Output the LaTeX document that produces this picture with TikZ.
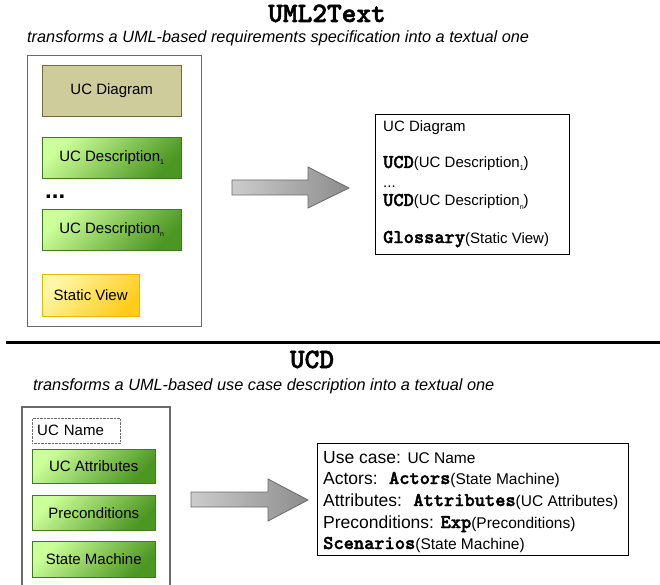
\documentclass[tikz,border=0pt]{standalone}
\usepackage{fontspec}
\setmainfont{Liberation Sans}
\newfontfamily\codefont{lmmonolt10-bold.otf}[FakeBold=2]

\definecolor{khakifill}{HTML}{CFCC9C}
\definecolor{khakiline}{HTML}{6E6C3C}
\definecolor{greenlight}{HTML}{CCFF99}
\definecolor{greendark}{HTML}{4C9622}
\definecolor{greenline}{HTML}{3F7A1E}
\definecolor{yellowlight}{HTML}{FFF7A8}
\definecolor{yellowdark}{HTML}{FFCC1A}
\definecolor{yellowline}{HTML}{E8B800}
\definecolor{arrowlight}{HTML}{CCCCCC}
\definecolor{arrowdark}{HTML}{8C8C8C}
\definecolor{arrowline}{HTML}{6A6A6A}
\definecolor{frameline}{HTML}{6A6A6A}

\newcommand{\idx}[1]{\raisebox{-3pt}{\fontsize{7}{7}\selectfont #1}}
\newcommand{\fn}[1]{{\codefont\fontsize{19.5}{20}\selectfont #1}}
\newcommand{\val}[1]{{\fontsize{15.5}{17}\selectfont #1}}

\tikzset{
  box/.style={shape=rectangle, anchor=north west, inner sep=0pt, font=\fontsize{15}{18}\selectfont},
  khakibox/.style={box, draw=khakiline, fill=khakifill},
  greenbox/.style={box, draw=greenline, top color=greenlight, bottom color=greendark, shading angle=45},
  yellowbox/.style={box, draw=yellowline, top color=yellowlight, bottom color=yellowdark, shading angle=45},
  frame/.style={draw=frameline, line width=1.2pt},
  outbox/.style={draw=black, line width=1pt, anchor=north west, inner sep=0pt},
  bigarrow/.style={draw=arrowline, left color=arrowlight, right color=arrowdark, line width=0.8pt},
  headline/.style={anchor=base, inner sep=0pt, font=\codefont\fontsize{28}{30}\selectfont},
  subline/.style={anchor=base west, inner sep=0pt, font=\itshape\fontsize{16.3}{18}\selectfont},
  txt/.style={anchor=base west, inner sep=0pt, font=\fontsize{15}{18}\selectfont},
  bigtxt/.style={anchor=base west, inner sep=0pt, font=\fontsize{17.5}{20}\selectfont}
}

\begin{document}
\begin{tikzpicture}[x=1pt,y=-1pt]
\useasboundingbox (0,0) rectangle (660,585);

\node(uml) at (327,22)[headline] {UML2Text};
\node(umlsub) at (27,43)[subline] {transforms a UML-based requirements specification into a textual one};

\node(reqs) at (27,55)[box, frame, minimum width=174pt, minimum height=271pt] {};
\node(diagram) at (42,65)[khakibox, minimum width=139pt, minimum height=51pt] {UC Diagram};
\node(descone) at (42,137)[greenbox, minimum width=139pt, minimum height=41pt] {UC Description\idx{1}};
\node(dots) at (45,199)[anchor=base west, inner sep=0pt, font=\bfseries\fontsize{24}{24}\selectfont] {...};
\node(descn) at (42,209)[greenbox, minimum width=139pt, minimum height=41pt] {UC Description\idx{n}};
\node(static) at (42,274)[yellowbox, minimum width=97pt, minimum height=42pt] {Static View};

\shade[bigarrow] (232,180) -- (308,180) -- (308,167) -- (349,188) -- (308,208) -- (308,195) -- (232,195) -- cycle;

\node(spec) at (375,114)[outbox, minimum width=194pt, minimum height=140pt] {};
\node(tdiag) at (383,132)[txt] {UC Diagram};
\node(tone) at (383,168)[txt] {\fn{UCD}(UC Description\idx{1})};
\node(tdots) at (383,188)[txt] {...};
\node(tn) at (383,206)[txt] {\fn{UCD}(UC Description\idx{n})};
\node(tgloss) at (383,243)[txt] {\fn{Glossary}(Static View)};

\draw[line width=3pt] (6,342) -- (660,342);

\node(ucd) at (312,368)[headline] {UCD};
\node(ucdsub) at (33,390)[subline] {transforms a UML-based use case description into a textual one};

\draw[frame] (22,590) -- (22,407) -- (170,407) -- (170,590);
\node(ucname) at (32,418)[box, draw=frameline, densely dotted, text width=78pt, inner xsep=5pt, minimum height=25pt, align=left] {UC Name};
\node(attrs) at (32,449)[greenbox, minimum width=123pt, minimum height=34pt] {UC Attributes};
\node(precond) at (32,495)[greenbox, minimum width=123pt, minimum height=35pt] {Preconditions};
\node(machine) at (32,541)[greenbox, minimum width=123pt, minimum height=36pt] {State Machine};

\shade[bigarrow] (191,492) -- (268,492) -- (268,479) -- (308,500) -- (268,521) -- (268,507) -- (191,507) -- cycle;

\node(usecase) at (317,443)[outbox, minimum width=311pt, minimum height=112pt] {};
\node(ucline) at (323,463)[bigtxt] {Use case: \val{UC Name}};
\node(actline) at (323,484)[bigtxt] {Actors:~ \fn{Actors}\val{(State Machine)}};
\node(attline) at (323,506)[bigtxt] {Attributes:~ \fn{Attributes}\val{(UC Attributes)}};
\node(preline) at (323,528)[bigtxt] {Preconditions: \fn{Exp}\val{(Preconditions)}};
\node(scenline) at (323,549)[bigtxt] {\fn{Scenarios}\val{(State Machine)}};

\end{tikzpicture}
\end{document}
